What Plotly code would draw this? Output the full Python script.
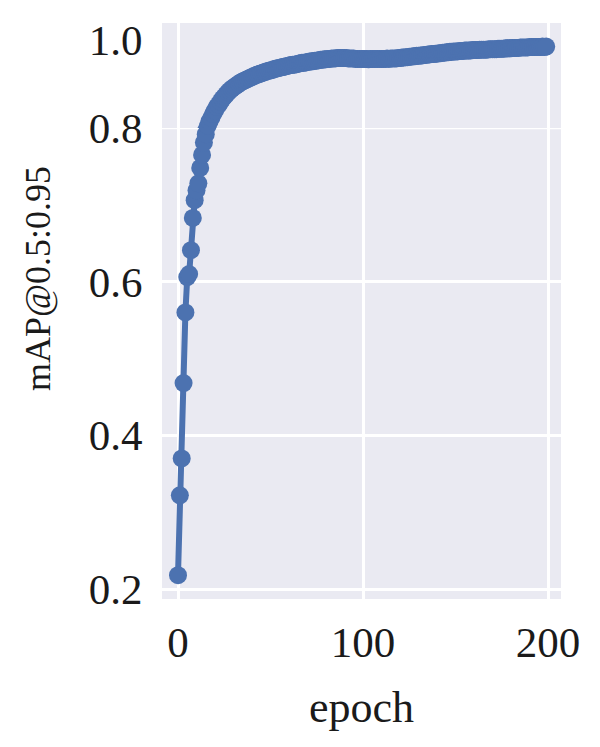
import plotly.graph_objects as go

epochs = list(range(200))
map_values = [
    0.218, 0.322, 0.370, 0.468, 0.560, 0.606, 0.610, 0.641, 0.683, 0.706,
    0.719, 0.728, 0.748, 0.765, 0.781, 0.792, 0.803, 0.815, 0.823, 0.832,
    0.840, 0.848, 0.853, 0.860, 0.866, 0.871, 0.876, 0.881, 0.885, 0.889,
    0.892, 0.895, 0.898, 0.901, 0.904, 0.906, 0.908, 0.910, 0.912, 0.914,
    0.916, 0.918, 0.920, 0.921, 0.923, 0.924, 0.926, 0.927, 0.929, 0.930,
    0.931, 0.932, 0.934, 0.935, 0.936, 0.937, 0.938, 0.939, 0.940, 0.941,
    0.942, 0.943, 0.944, 0.944, 0.945, 0.946, 0.947, 0.948, 0.948, 0.949,
    0.950, 0.951, 0.951, 0.952, 0.953, 0.953, 0.954, 0.955, 0.955, 0.956,
    0.956, 0.957, 0.957, 0.958, 0.958, 0.958, 0.959, 0.959, 0.959, 0.959,
    0.959, 0.959, 0.958, 0.958, 0.958, 0.958, 0.957, 0.957, 0.957, 0.957,
    0.957, 0.957, 0.957, 0.956, 0.957, 0.957, 0.957, 0.957, 0.957, 0.957,
    0.957, 0.957, 0.957, 0.958, 0.957, 0.958, 0.958, 0.958, 0.958, 0.959,
    0.959, 0.960, 0.960, 0.961, 0.961, 0.962, 0.962, 0.963, 0.963, 0.964,
    0.964, 0.965, 0.965, 0.966, 0.966, 0.967, 0.967, 0.968, 0.968, 0.969,
    0.969, 0.970, 0.970, 0.971, 0.971, 0.972, 0.972, 0.973, 0.973, 0.974,
    0.974, 0.974, 0.975, 0.975, 0.975, 0.976, 0.976, 0.976, 0.976, 0.977,
    0.977, 0.977, 0.977, 0.978, 0.978, 0.978, 0.978, 0.978, 0.979, 0.979,
    0.979, 0.979, 0.979, 0.980, 0.980, 0.980, 0.980, 0.981, 0.981, 0.981,
    0.981, 0.982, 0.982, 0.982, 0.982, 0.983, 0.983, 0.983, 0.983, 0.983,
    0.984, 0.984, 0.984, 0.984, 0.984, 0.984, 0.984, 0.985, 0.984, 0.985,
]
x_ticks = [0, 100, 200]
x_tick_labels = ["0", "100", "200"]
y_ticks_low = [0.2, 0.4, 0.6, 0.8]
y_tick_labels_low = ["0.2", "0.4", "0.6", "0.8"]
y_ticks_high = [1.0]
y_tick_labels_high = ["1.0"]
x_title = "epoch"
y_title = "mAP@0.5:0.95"

COLOR = "#4C72B0"
BG = "#EAEAF2"
FONT = "Liberation Serif"
TXT = "#1a1a1a"

fig = go.Figure()
for xa, ya in (("x", "y"), ("x2", "y2")):
    fig.add_trace(go.Scatter(
        x=epochs, y=map_values, xaxis=xa, yaxis=ya,
        mode="lines+markers",
        line=dict(color=COLOR, width=6),
        marker=dict(color=COLOR, size=18, line=dict(width=0)),
        showlegend=False, hoverinfo="x+y",
    ))

split = 471 / 576
grid = dict(showgrid=True, gridcolor="white", gridwidth=2.5, zeroline=False,
            showline=False, ticks="outside", tickcolor="rgba(0,0,0,0)",
            automargin=False, tickfont=dict(family=FONT, size=43, color=TXT))

fig.update_layout(
    template="none",
    width=592, height=739,
    margin=dict(l=154, r=39, t=15, b=148),
    paper_bgcolor="white", plot_bgcolor=BG,
    font=dict(family=FONT, size=43, color=TXT),
    xaxis=dict(domain=[0, 1], anchor="y", range=[-8.65, 207.0],
               tickvals=x_ticks, ticktext=x_tick_labels, ticklen=5, **grid),
    yaxis=dict(domain=[0, split], anchor="x", range=[0.187, 0.8],
               tickvals=y_ticks_low, ticktext=y_tick_labels_low, ticklen=10, **grid),
    xaxis2=dict(domain=[0, 1], anchor="y2", matches="x", range=[-8.65, 207.0],
                tickvals=x_ticks, showticklabels=False, **grid),
    yaxis2=dict(domain=[split, 1], anchor="x2", range=[0.8, 1.0386],
                tickvals=y_ticks_high, ticktext=y_tick_labels_high, ticklen=10,
                **{**grid, "showgrid": False}),
    shapes=[
        dict(type="line", xref="x domain", yref="y", x0=0, x1=1, y0=0.8, y1=0.8,
             line=dict(color="white", width=2.5), layer="below"),
    ],
    annotations=[
        dict(text=x_title, xref="paper", yref="paper", x=0.5, y=-0.189,
             xanchor="center", yanchor="middle", showarrow=False,
             font=dict(family=FONT, size=44, color=TXT)),
        dict(text=y_title, xref="paper", yref="paper", x=-0.311, y=0.557,
             xanchor="center", yanchor="middle", textangle=-90, showarrow=False,
             font=dict(family=FONT, size=36, color=TXT)),
    ],
)

fig.write_html("out.html")
